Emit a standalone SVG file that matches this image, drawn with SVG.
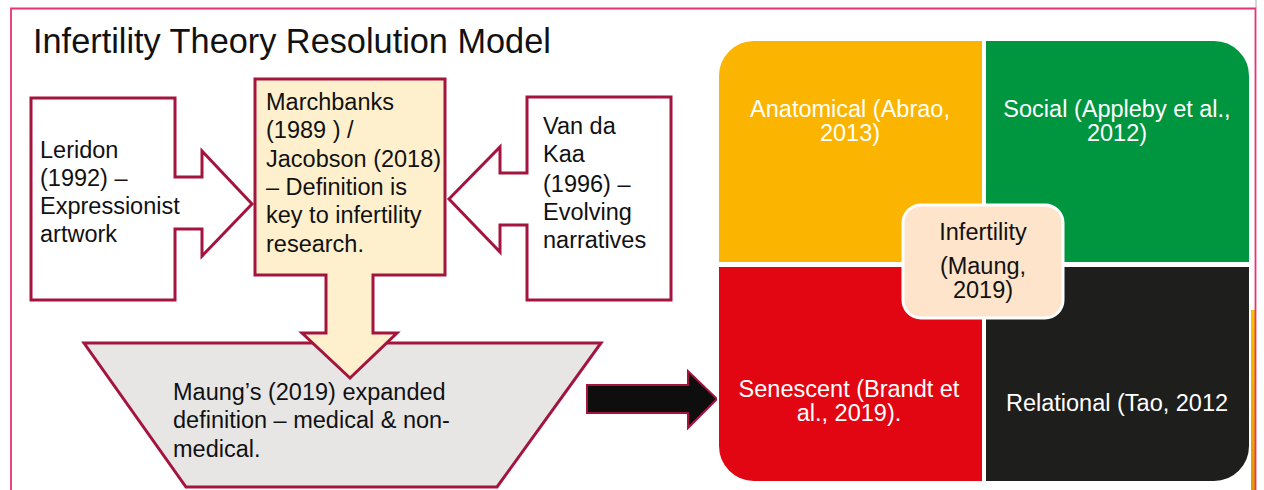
<svg xmlns="http://www.w3.org/2000/svg" width="1264" height="490" viewBox="0 0 1264 490">
  <defs>
    <style>
      .lbl { font-family: "Liberation Sans", Arial, sans-serif; font-size: 23.5px; fill: #111111; }
      .wht { font-family: "Liberation Sans", Arial, sans-serif; font-size: 23.5px; fill: #ffffff; text-anchor: middle; }
      .ctr { font-family: "Liberation Sans", Arial, sans-serif; font-size: 23.5px; fill: #111111; text-anchor: middle; }
      .callout { fill: #ffffff; stroke: #a3143f; stroke-width: 3; stroke-linejoin: miter; }
      .cream { fill: #fff0cd; stroke: #a3143f; stroke-width: 3; }
      .quad { stroke: #ffffff; stroke-width: 2; }
    </style>
    <linearGradient id="edgeGlow" x1="0" y1="0" x2="0" y2="1">
      <stop offset="0" stop-color="#f7c200"/>
      <stop offset="1" stop-color="#e39a00"/>
    </linearGradient>
  </defs>

  <rect x="0" y="0" width="1264" height="490" fill="#ffffff"/>

  <!-- slide frame -->
  <g id="frame">
    <line x1="1256" y1="0" x2="1256" y2="8" stroke="#c8c8c8" stroke-width="1.5"/>
    <rect x="1251" y="310" width="4" height="180" fill="url(#edgeGlow)"/>
    <polyline points="11,490 11,8.5 1255.5,8.5 1255.5,490" fill="none" stroke="#e8336e" stroke-width="1.8"/>
  </g>

  <text id="title" x="33" y="53" font-family="'Liberation Sans', Arial, sans-serif" font-size="34.3" fill="#111111">Infertility Theory Resolution Model</text>

  <!-- Leridon: right-pointing callout -->
  <g id="leridon">
    <path class="callout" d="M31,98 H175 V177 H202 V151 L252,204 L202,256 V229 H175 V300 H31 Z"/>
    <text class="lbl" x="40" y="158">Leridon</text>
    <text class="lbl" x="40" y="186">(1992) –</text>
    <text class="lbl" x="40" y="214">Expressionist</text>
    <text class="lbl" x="40" y="242">artwork</text>
  </g>

  <!-- Van da Kaa: left-pointing callout -->
  <g id="vandakaa">
    <path class="callout" d="M671,97 H527 V173 H500 V147 L449,199 L500,252 V225 H527 V300 H671 Z"/>
    <text class="lbl" x="543" y="134">Van da</text>
    <text class="lbl" x="543" y="162">Kaa</text>
    <text class="lbl" x="543" y="192">(1996) –</text>
    <text class="lbl" x="543" y="220">Evolving</text>
    <text class="lbl" x="543" y="248">narratives</text>
  </g>

  <!-- Maung's expanded definition: trapezoid -->
  <g id="maung">
    <path d="M84,343 H601 L497,487 H186 Z" fill="#e7e6e5" stroke="#a3143f" stroke-width="3"/>
  </g>

  <!-- Marchbanks / Jacobson: down-pointing callout -->
  <g id="marchbanks">
    <path class="cream" d="M255,79 H445 V275 H373 V333 H397 L350,378 L302,333 H326 V275 H255 Z"/>
    <text class="lbl" x="266" y="110">Marchbanks</text>
    <text class="lbl" x="266" y="138">(1989 ) /</text>
    <text class="lbl" x="266" y="167">Jacobson (2018)</text>
    <text class="lbl" x="266" y="195">– Definition is</text>
    <text class="lbl" x="266" y="223">key to infertility</text>
    <text class="lbl" x="266" y="252">research.</text>
  </g>

  <g id="maung-text">
    <text class="lbl" x="173" y="400">Maung’s (2019) expanded</text>
    <text class="lbl" x="173" y="428">definition – medical &amp; non-</text>
    <text class="lbl" x="173" y="457">medical.</text>
  </g>

  <!-- connector into the matrix -->
  <g id="connectors">
    <path d="M587,385 H688 V371 L717,399 L688,428 V413 H587 Z" fill="#0e0e0e" stroke="#a3143f" stroke-width="2"/>
  </g>

  <!-- four-quadrant matrix -->
  <g id="anatomical">
    <path class="quad" d="M718,263 V76 A36,36 0 0 1 754,40 H983 V263 Z" fill="#fbb400"/>
    <text class="wht" x="850" y="117">Anatomical (Abrao,</text>
    <text class="wht" x="850" y="141">2013)</text>
  </g>
  <g id="social">
    <path class="quad" d="M985,263 V40 H1214 A36,36 0 0 1 1250,76 V263 Z" fill="#00963f"/>
    <text class="wht" x="1117" y="117">Social (Appleby et al.,</text>
    <text class="wht" x="1117" y="141">2012)</text>
  </g>
  <g id="senescent">
    <path class="quad" d="M718,266 H983 V482 H754 A36,36 0 0 1 718,446 Z" fill="#e20613"/>
    <text class="wht" x="849" y="397">Senescent (Brandt et</text>
    <text class="wht" x="849" y="421">al., 2019).</text>
  </g>
  <g id="relational">
    <path class="quad" d="M985,266 H1250 V446 A36,36 0 0 1 1214,482 H985 Z" fill="#1e1e1c"/>
    <text class="wht" x="1117" y="411">Relational (Tao, 2012</text>
  </g>
  <g id="infertility">
    <rect x="903" y="205" width="160" height="113" rx="18" fill="#fde4cb" stroke="#ffffff" stroke-width="3"/>
    <text class="ctr" x="983" y="240">Infertility</text>
    <text class="ctr" x="983" y="274">(Maung,</text>
    <text class="ctr" x="983" y="298">2019)</text>
  </g>
</svg>
